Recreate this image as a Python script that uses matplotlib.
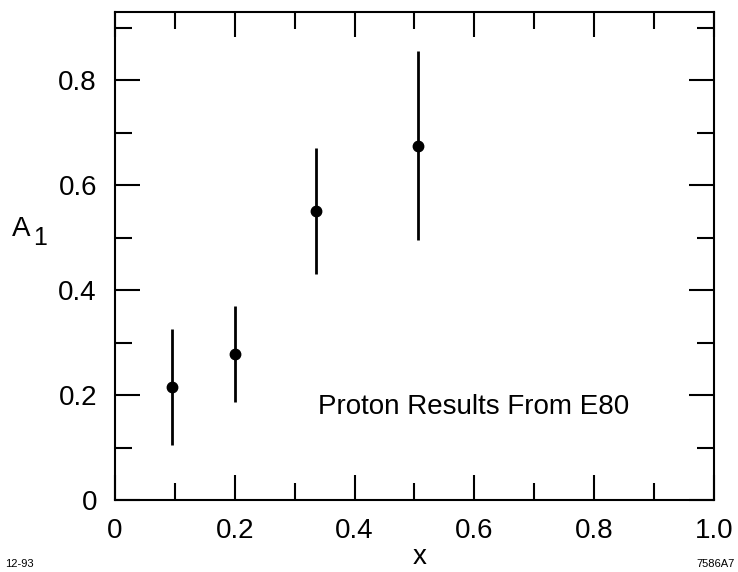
import numpy as np
import matplotlib
matplotlib.use('Agg')
import matplotlib.pyplot as plt
from matplotlib.ticker import MultipleLocator

plt.rcParams['font.family'] = ['Liberation Sans', 'DejaVu Sans']

# E80 proton asymmetry points
x_vals = [0.096, 0.200, 0.336, 0.506]
a1_vals = [0.215, 0.278, 0.551, 0.675]
a1_err = [0.110, 0.091, 0.120, 0.180]

x_ticks = [0, 0.2, 0.4, 0.6, 0.8, 1.0]
x_labels = ['0', '0.2', '0.4', '0.6', '0.8', '1.0']
y_ticks = [0, 0.2, 0.4, 0.6, 0.8]
y_labels = ['0', '0.2', '0.4', '0.6', '0.8']

fig = plt.figure(figsize=(7.38, 5.72), dpi=100)
ax = fig.add_axes([0.1558, 0.1259, 0.8117, 0.8531])

ax.errorbar(x_vals, a1_vals, yerr=a1_err, fmt='o', color='black',
            markersize=7.5, elinewidth=2, capsize=0)

ax.set_xlim(0, 1.0)
ax.set_ylim(0, 0.93)
ax.set_xticks(x_ticks)
ax.set_xticklabels(x_labels)
ax.set_yticks(y_ticks)
ax.set_yticklabels(y_labels)
ax.xaxis.set_minor_locator(MultipleLocator(0.1))
ax.yaxis.set_minor_locator(MultipleLocator(0.1))

ax.tick_params(which='both', direction='in', top=True, right=True,
               width=1.5, labelsize=20, pad=13)
ax.tick_params(which='major', length=18)
ax.tick_params(which='minor', length=12)
for sp in ax.spines.values():
    sp.set_linewidth(1.5)

ax.text(0.339, 0.164, 'Proton Results From E80', fontsize=20, va='baseline')

# axis labels (subscript drawn nearly full size, as in the original)
fig.text(0.016, 0.587, 'A', fontsize=20, va='baseline')
fig.text(0.045, 0.572, '1', fontsize=18, va='baseline')
fig.text(0.569, 0.014, 'x', fontsize=20, ha='center', va='baseline')
fig.text(0.007, 0.008, '12-93', fontsize=8)
fig.text(0.996, 0.008, '7586A7', fontsize=8, ha='right')

plt.savefig('out.png', dpi=100)
